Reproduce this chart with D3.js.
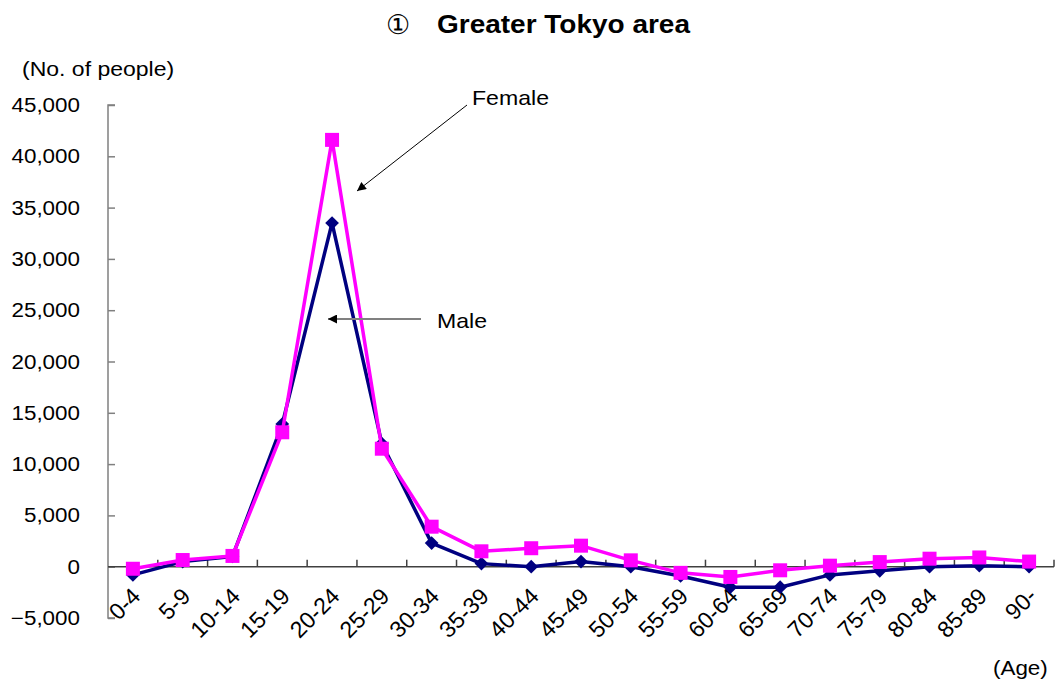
<!DOCTYPE html>
<html>
<head>
<meta charset="utf-8">
<script src="https://cdn.jsdelivr.net/npm/d3@7"></script>
<style>
  html, body { margin: 0; padding: 0; background: #fff; }
  svg { display: block; font-family: "Liberation Sans", Arial, sans-serif; }
</style>
</head>
<body>
<svg id="chart" width="1059" height="686"></svg>
<script>
// Net migration by age group, Greater Tokyo area
const ageGroups = ["0-4","5-9","10-14","15-19","20-24","25-29","30-34","35-39","40-44","45-49",
                   "50-54","55-59","60-64","65-69","70-74","75-79","80-84","85-89","90-"];
const maleValues   = [-800, 500, 1000, 13900, 33500, 12000, 2300, 300, 0, 500,
                      0, -900, -2000, -2000, -800, -400, 0, 100, 0];
const femaleValues = [-200, 650, 1050, 13100, 41600, 11500, 3900, 1500, 1800, 2050,
                      620, -600, -1000, -350, 100, 450, 780, 900, 500];
const yTicks = [-5000, 0, 5000, 10000, 15000, 20000, 25000, 30000, 35000, 40000, 45000];

const svg = d3.select("#chart");
const plot = { left: 108, right: 1054, top: 105, bottom: 618 };

const x = d3.scaleBand().domain(ageGroups).range([plot.left, plot.right]).padding(0);
const y = d3.scaleLinear().domain([-5000, 45000]).range([plot.bottom, plot.top]);
const fmt = d3.format(",");
const cx = d => x(d) + x.bandwidth() / 2;

// widen glyphs slightly to the proportions of the original typeface
function widen(sel, k) {
  sel.each(function () {
    const w = this.getComputedTextLength();
    d3.select(this).attr("textLength", w * k).attr("lengthAdjust", "spacingAndGlyphs");
  });
}

// Title: circled numeral and area name
svg.append("text")
  .attr("x", 398).attr("y", 34)
  .attr("text-anchor", "middle")
  .attr("font-size", 27).attr("fill", "#000")
  .text("\u2460");
const title = svg.append("text")
  .attr("x", 437).attr("y", 33)
  .attr("font-size", 25).attr("font-weight", "bold").attr("fill", "#000")
  .text("Greater Tokyo area");
widen(title, 253 / title.node().getComputedTextLength());

// Y axis
const yAxis = svg.append("g")
  .attr("transform", `translate(${plot.left},0)`)
  .call(d3.axisRight(y).tickValues(yTicks).tickSize(7).tickFormat(""));
yAxis.select(".domain").attr("stroke", "#808080").attr("stroke-width", 1.5)
  .attr("d", `M7,${plot.bottom}H0V${plot.top}H7`);
yAxis.selectAll(".tick line").attr("stroke", "#808080").attr("stroke-width", 1.5);

const yLabels = svg.append("g").selectAll("text")
  .data(yTicks).join("text")
  .attr("x", 80).attr("y", d => y(d) + 7)
  .attr("text-anchor", "end").attr("font-size", 20).attr("fill", "#000")
  .text(d => fmt(d));
widen(yLabels, 1.12);

const yTitle = svg.append("text")
  .attr("x", 22).attr("y", 76).attr("font-size", 20).attr("fill", "#000")
  .text("(No. of people)");
widen(yTitle, 1.15);

// X axis along zero, ticks at category boundaries pointing up
const x0 = y(0);
const bounds = ageGroups.map(d => x(d) + x.bandwidth());
svg.append("line")
  .attr("x1", plot.left).attr("x2", plot.right).attr("y1", x0).attr("y2", x0)
  .attr("stroke", "#404040").attr("stroke-width", 1.5);
svg.append("g").selectAll("line")
  .data(bounds).join("line")
  .attr("x1", d => d).attr("x2", d => d).attr("y1", x0).attr("y2", x0 - 7)
  .attr("stroke", "#404040").attr("stroke-width", 1.5);

svg.append("g").selectAll("text")
  .data(ageGroups).join("text")
  .attr("transform", d => `translate(${cx(d) + 9},${x0 + 31}) rotate(-45)`)
  .attr("text-anchor", "end").attr("font-size", 23).attr("fill", "#000")
  .text(d => d);

const xTitle = svg.append("text")
  .attr("x", 993).attr("y", 675).attr("font-size", 20).attr("fill", "#000")
  .text("(Age)");
widen(xTitle, 1.12);

// Series lines
const line = d3.line()
  .x((d, i) => cx(ageGroups[i]))
  .y(d => y(d));

svg.append("path").datum(maleValues)
  .attr("d", line).attr("fill", "none")
  .attr("stroke", "#000080").attr("stroke-width", 3.5).attr("stroke-linejoin", "round");

svg.append("g").selectAll("path")
  .data(maleValues).join("path")
  .attr("d", d3.symbol(d3.symbolDiamond2, 120)())
  .attr("transform", (d, i) => `translate(${cx(ageGroups[i])},${y(d)})`)
  .attr("fill", "#000080");

svg.append("path").datum(femaleValues)
  .attr("d", line).attr("fill", "none")
  .attr("stroke", "#FF00FF").attr("stroke-width", 3.5).attr("stroke-linejoin", "round");

svg.append("g").selectAll("rect")
  .data(femaleValues).join("rect")
  .attr("x", (d, i) => cx(ageGroups[i]) - 7)
  .attr("y", d => y(d) - 7)
  .attr("width", 14).attr("height", 14)
  .attr("fill", "#FF00FF");

// Annotations
const defs = svg.append("defs");
defs.append("marker").attr("id", "head")
  .attr("viewBox", "0 0 10 10").attr("refX", 10).attr("refY", 5)
  .attr("markerWidth", 12).attr("markerHeight", 9).attr("markerUnits", "userSpaceOnUse")
  .attr("orient", "auto")
  .append("path").attr("d", "M0,0L10,5L0,10z").attr("fill", "#000");

svg.append("line")
  .attr("x1", 467).attr("y1", 105).attr("x2", 357).attr("y2", 191)
  .attr("stroke", "#000").attr("stroke-width", 1)
  .attr("marker-end", "url(#head)");
const fLab = svg.append("text")
  .attr("x", 472).attr("y", 105).attr("font-size", 21).attr("fill", "#000")
  .text("Female");
widen(fLab, 1.1);

svg.append("line")
  .attr("x1", 421).attr("y1", 319).attr("x2", 328).attr("y2", 319)
  .attr("stroke", "#808080").attr("stroke-width", 1.8)
  .attr("marker-end", "url(#head)");
const mLab = svg.append("text")
  .attr("x", 437).attr("y", 328).attr("font-size", 21).attr("fill", "#000")
  .text("Male");
widen(mLab, 1.1);
</script>
</body>
</html>
